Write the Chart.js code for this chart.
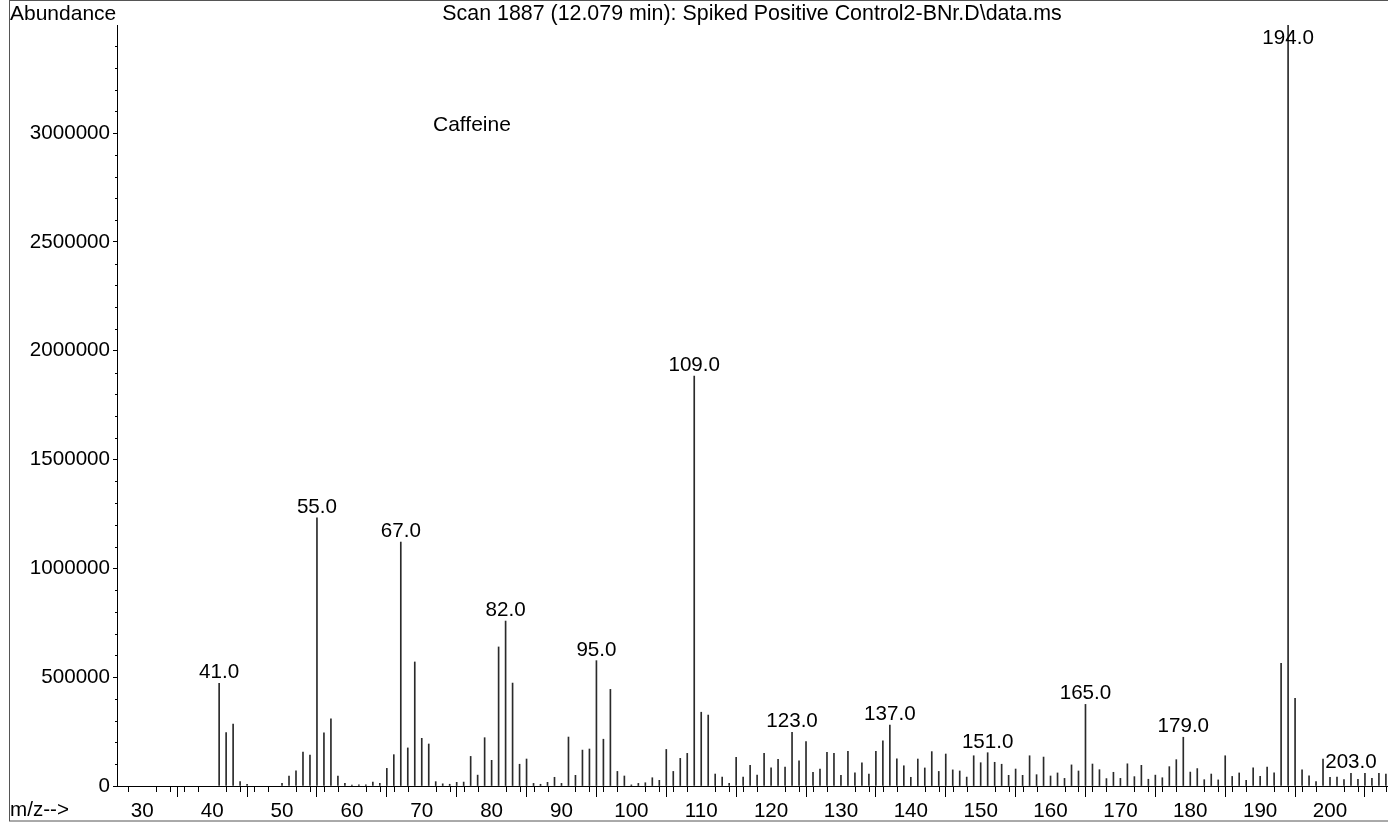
<!DOCTYPE html>
<html><head><meta charset="utf-8">
<script src="https://cdn.jsdelivr.net/npm/chart.js@4/dist/chart.umd.min.js"></script>
<style>html,body{margin:0;padding:0;background:#fff;overflow:hidden}#wrap{width:1388px;height:823px;position:relative}</style>
</head><body><div id="wrap"><canvas id="c" width="1388" height="823"></canvas></div>
<script>
const titleText = "Scan 1887 (12.079 min): Spiked Positive Control2-BNr.D\\data.ms";
const yAxisTitle = "Abundance";
const xAxisTitle = "m/z-->";
const compoundName = "Caffeine";

const mz = [41,42,43,44,45,50,51,52,53,54,55,56,57,58,59,60,61,62,63,64,65,66,67,68,69,70,
  71,72,73,74,75,76,77,78,79,80,81,82,83,84,85,86,87,88,89,90,91,92,93,94,95,96,97,98,99,100,
  101,102,103,104,105,106,107,108,109,110,111,112,113,114,115,116,117,118,119,120,
  121,122,123,124,125,126,127,128,129,130,131,132,133,134,135,136,137,138,139,140,
  141,142,143,144,145,146,147,148,149,150,151,152,153,154,155,156,157,158,159,160,
  161,162,163,164,165,166,167,168,169,170,171,172,173,174,175,176,177,178,179,180,
  181,182,183,184,185,186,187,188,189,190,191,192,193,194,195,196,197,198,199,200,
  201,202,203,204,205,206,207,208];
const abundance = [472000,245000,285000,20000,8000,12000,46000,70000,156000,142000,1232000,244000,309000,46000,12000,4000,5000,5000,18000,12000,81000,144000,1121000,175000,570000,219000,
  193000,20000,10000,8000,17000,18000,136000,50000,222000,118000,639000,758000,473000,100000,124000,12000,8000,17000,40000,12000,225000,49000,165000,170000,576000,215000,444000,67000,46000,5000,
  12000,15000,38000,26000,168000,67000,127000,150000,1884000,339000,326000,55000,41000,12000,132000,41000,95000,50000,150000,83000,
  123000,87000,247000,116000,204000,63000,78000,155000,150000,49000,159000,60000,107000,55000,159000,207000,280000,125000,93000,40000,
  124000,83000,158000,67000,147000,74000,69000,41000,139000,107000,153000,109000,100000,49000,78000,49000,139000,52000,133000,46000,
  60000,35000,97000,69000,375000,101000,75000,34000,63000,35000,102000,43000,95000,31000,50000,38000,89000,121000,224000,64000,
  80000,29000,55000,28000,139000,44000,60000,26000,83000,44000,87000,60000,564000,3497000,403000,74000,47000,20000,124000,40000,
  41000,29000,58000,31000,58000,35000,58000,55000];
const labeledPeaks = [41,55,67,82,95,109,123,137,151,165,179,194,203];
const xTickValues = [30,40,50,60,70,80,90,100,110,120,130,140,150,160,170,180,190,200];
const yTickValues = [0,500000,1000000,1500000,2000000,2500000,3000000];

const FONT = "'Liberation Sans', Arial, Helvetica, sans-serif";
Chart.defaults.font.family = FONT;
Chart.defaults.font.size = 20.6;
Chart.defaults.color = '#000';

const decor = {
  id: 'decor',
  afterDraw(chart) {
    const ctx = chart.ctx, xs = chart.scales.x, ys = chart.scales.y, ca = chart.chartArea;
    ctx.save();
    ctx.strokeStyle = '#555'; ctx.lineWidth = 1;
    ctx.strokeRect(9.5, 0.5, 1390, 820.5);
    ctx.strokeStyle = '#000';
    ctx.beginPath();
    for (let v = 28; v <= 208; v += 2) {
      if (v % 10 === 0) continue;
      const x = Math.round(xs.getPixelForValue(v)) + 0.5;
      ctx.moveTo(x, ca.bottom); ctx.lineTo(x, ca.bottom + 6);
    }
    for (let v = 100000; v < ys.max; v += 100000) {
      if (v % 500000 === 0) continue;
      const y = Math.round(ys.getPixelForValue(v)) + 0.5;
      ctx.moveTo(ca.left - 2, y); ctx.lineTo(ca.left, y);
    }
    ctx.stroke();
    ctx.fillStyle = '#000';
    ctx.font = '20.6px ' + FONT;
    ctx.textAlign = 'center'; ctx.textBaseline = 'alphabetic';
    labeledPeaks.forEach(m => {
      const i = mz.indexOf(m);
      const x = xs.getPixelForValue(m);
      const y = Math.max(ys.getPixelForValue(abundance[i]) - 5, 44);
      ctx.fillText(m.toFixed(1), x, y);
    });
    ctx.font = '21.4px ' + FONT;
    ctx.fillText(titleText, 752, 20);
    ctx.textAlign = 'left';
    ctx.font = '21px ' + FONT;
    ctx.fillText(yAxisTitle, 10, 20);
    ctx.fillText(compoundName, 433, 131);
    ctx.font = '20.6px ' + FONT;
    ctx.fillText(xAxisTitle, 10, 816);
    ctx.restore();
  }
};

new Chart(document.getElementById('c'), {
  type: 'bar',
  data: { datasets: [{
    data: mz.map((m, i) => ({ x: m, y: abundance[i] })),
    backgroundColor: '#2a2a2a', borderWidth: 0, barThickness: 1
  }]},
  options: {
    responsive: false, animation: false,
    layout: { padding: { top: 25, left: 0, right: 0, bottom: 0 } },
    plugins: { legend: { display: false }, tooltip: { enabled: false }, title: { display: false } },
    scales: {
      x: {
        type: 'linear', min: 26.38, max: 208.3, offset: false,
        afterFit: s => { s.height = 37; },
        afterBuildTicks: s => { s.ticks = xTickValues.map(v => ({ value: v })); },
        border: { display: true, color: '#000', width: 1 },
        grid: { display: true, drawOnChartArea: false, drawTicks: true, tickLength: 11, color: '#000' },
        ticks: { autoSkip: false, maxRotation: 0, padding: 2, color: '#000', callback: v => String(v) }
      },
      y: {
        min: 0, max: 3497000,
        afterFit: s => { s.width = 117; },
        afterBuildTicks: s => { s.ticks = yTickValues.map(v => ({ value: v })); },
        border: { display: true, color: '#000', width: 1 },
        grid: { display: true, drawOnChartArea: false, drawTicks: true, tickLength: 4, color: '#000' },
        ticks: { padding: 3, color: '#000', autoSkip: false, callback: v => String(v) }
      }
    }
  },
  plugins: [decor]
});
</script></body></html>
